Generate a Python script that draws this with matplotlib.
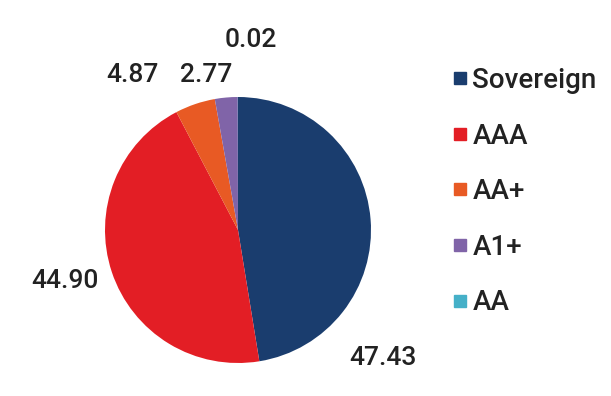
import matplotlib
matplotlib.use("Agg")
import matplotlib.pyplot as plt
from matplotlib.lines import Line2D

categories = ["Sovereign", "AAA", "AA+", "A1+", "AA"]
values = [47.43, 44.90, 4.87, 2.77, 0.02]
value_labels = ["47.43", "44.90", "4.87", "2.77", "0.02"]
colors = ["#1a3d6e", "#e31e25", "#e85a24", "#8064a8", "#45b0c8"]

# label layout (data coordinates of the pie axes, radius = 1)
label_pos = [(1.09, -0.96), (-1.30, -0.38), (-0.79, 1.165), (-0.24, 1.165), (0.10, 1.43)]

plt.rcParams['font.family'] = ['Roboto', 'DejaVu Sans']
W, H = 611, 396
fig = plt.figure(figsize=(W / 100, H / 100), dpi=100)

cx, cy, r = 238, 230, 133
ax = fig.add_axes([(cx - r) / W, (H - cy - r) / H, 2 * r / W, 2 * r / H])
wedges, _ = ax.pie(values, colors=colors, startangle=90, counterclock=False,
                   radius=1, wedgeprops=dict(linewidth=0))
ax.set_xlim(-1, 1)
ax.set_ylim(-1, 1)
ax.set_aspect("equal")
ax.axis("off")

for (x, y), t in zip(label_pos, value_labels):
    ax.text(x, y, t, ha="center", va="center", fontsize=19, fontweight="medium",
            color="#222222", clip_on=False)

handles = [Line2D([0], [0], marker="s", linestyle="none", markersize=8.5,
                  markerfacecolor=c, markeredgecolor=c) for c in colors]
fig.legend(handles, categories, loc="upper left", bbox_to_anchor=(439 / W, 1 - 53 / H),
           frameon=False, handlelength=0.5, handletextpad=0.2,
           labelspacing=1.03, borderpad=0, labelcolor="#222222",
           prop=dict(size=20, weight="medium"))

fig.savefig("out.png", dpi=100)
